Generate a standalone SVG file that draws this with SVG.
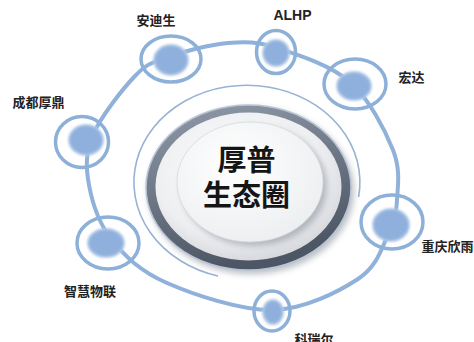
<svg xmlns="http://www.w3.org/2000/svg" width="474" height="342" viewBox="0 0 474 342">
<defs>
<linearGradient id="band" x1="0" y1="0" x2="0.3" y2="1">
<stop offset="0" stop-color="#939cab"/>
<stop offset="0.5" stop-color="#6f7886"/>
<stop offset="1" stop-color="#4d5665"/>
</linearGradient>
<radialGradient id="plate" cx="0.45" cy="0.4" r="0.65">
<stop offset="0" stop-color="#ffffff"/>
<stop offset="0.7" stop-color="#eeeff1"/>
<stop offset="1" stop-color="#cfd2d7"/>
</radialGradient>
<radialGradient id="face" cx="0.4" cy="0.35" r="0.7">
<stop offset="0" stop-color="#ffffff"/>
<stop offset="1" stop-color="#eceef0"/>
</radialGradient>
<filter id="blur3" x="-20%" y="-20%" width="140%" height="140%"><feGaussianBlur stdDeviation="3"/></filter>
<filter id="soft" x="-20%" y="-20%" width="140%" height="140%"><feGaussianBlur stdDeviation="0.8"/></filter>
</defs>
<style>
.orbit{fill:none;stroke:#8fb1da;stroke-width:4;stroke-linecap:round}
.ring{fill:none;stroke:#8db0d9;stroke-width:3.5}
.dot{fill:#8fb0dc;stroke:#b3cae8;stroke-width:2;filter:url(#soft)}
.lbl{font-family:"Noto Sans CJK SC","Liberation Sans",sans-serif;font-weight:bold;font-size:13px;fill:#222;text-anchor:middle}
.en{font-family:"Liberation Sans","Noto Sans CJK SC",sans-serif;font-size:14px}
.big{font-family:"Noto Sans CJK SC",sans-serif;font-weight:bold;font-size:29px;fill:#151515;text-anchor:middle}
</style>
<rect width="474" height="342" fill="#ffffff"/>

<g id="center">
<path d="M218,276 A113,97 0 1 1 358.6,197" fill="none" stroke="#98b2d4" stroke-width="1.6"/>
<ellipse cx="251" cy="191" rx="103" ry="83" fill="#8c939d" opacity="0.6" filter="url(#blur3)"/>
<ellipse cx="248.5" cy="187.5" rx="102.5" ry="82.5" fill="url(#band)" stroke="#b9c5d6" stroke-width="1.5"/>
<ellipse cx="248.5" cy="186.5" rx="93" ry="74" fill="url(#plate)"/>
<ellipse cx="254" cy="186" rx="73" ry="60" fill="#9aa0a8" opacity="0.7" filter="url(#blur3)"/>
<ellipse cx="250" cy="182" rx="73" ry="60" fill="url(#face)" stroke="#d6d9de" stroke-width="0.8"/>
<text class="big" x="246.5" y="171">厚普</text>
<text class="big" x="246.5" y="206">生态圈</text>
</g>

<g id="connectors">
<path class="orbit" d="M168,57 C183.5,51.5 209.8,44.5 228,43 C246.2,41.5 256.7,41.5 277,48 C297.3,54.5 330.7,65 350,82 C369.3,99 385.2,130.3 393,150 C400.8,169.7 397.8,185.8 397,200 C396.2,214.2 394.5,221.8 388,235 C381.5,248.2 377.2,266.5 358,279 C338.8,291.5 304.8,309.3 273,310 C241.2,310.7 193.8,294.7 167,283 C140.2,271.3 125,256.3 112,240 C99,223.7 92.2,202.5 89,185 C85.8,167.5 85.3,153.2 93,135 C100.7,116.8 122.5,89 135,76 C147.5,63 152.5,62.5 168,57 Z"/>
</g>

<g id="n-andisheng">
<ellipse class="ring" cx="171" cy="59" rx="30" ry="23"/>
<ellipse class="dot" cx="171" cy="60" rx="17" ry="15"/>
<text class="lbl" x="156" y="24.5">安迪生</text>
</g>
<g id="n-alhp">
<ellipse class="ring" cx="276" cy="52" rx="19.5" ry="21.5"/>
<ellipse class="dot" cx="276" cy="53" rx="13" ry="13"/>
<text class="lbl en" x="292.5" y="20">ALHP</text>
</g>
<g id="n-hongda">
<ellipse class="ring" cx="355" cy="84" rx="31" ry="25"/>
<ellipse class="dot" cx="354" cy="86" rx="17" ry="14"/>
<text class="lbl" x="411.5" y="82">宏达</text>
</g>
<g id="n-chengdu">
<ellipse class="ring" cx="82" cy="142" rx="26.5" ry="25.5"/>
<ellipse class="dot" cx="86" cy="140" rx="17" ry="15"/>
<text class="lbl" x="38.5" y="107">成都厚鼎</text>
</g>
<g id="n-chongqing">
<ellipse class="ring" cx="392" cy="222" rx="31" ry="27"/>
<ellipse class="dot" cx="391" cy="225" rx="18" ry="16"/>
<text class="lbl" x="447.5" y="251">重庆欣雨</text>
</g>
<g id="n-zhihui">
<ellipse class="ring" cx="108" cy="243" rx="31" ry="26"/>
<ellipse class="dot" cx="106" cy="243" rx="18" ry="14"/>
<text class="lbl" x="90" y="296">智慧物联</text>
</g>
<g id="n-keruier">
<ellipse class="ring" cx="272" cy="311" rx="18" ry="20"/>
<ellipse class="dot" cx="273" cy="312" rx="10" ry="12"/>
<text class="lbl" x="314" y="344">科瑞尔</text>
</g>
</svg>
